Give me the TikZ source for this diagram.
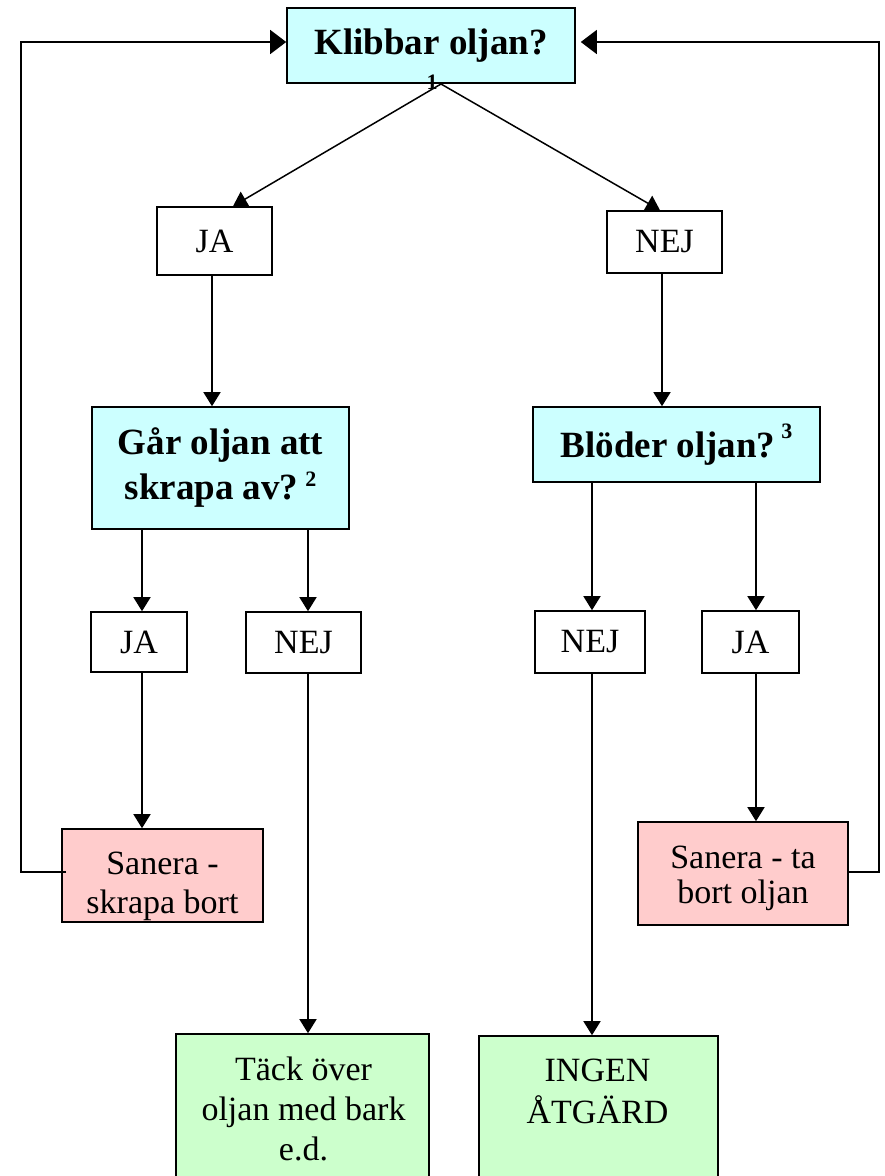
\documentclass[tikz,border=0pt]{standalone}
\usepackage{fontspec}
\setmainfont{Liberation Serif}
\usetikzlibrary{arrows.meta}
\definecolor{qcyan}{HTML}{CCFFFF}
\definecolor{spink}{HTML}{FFCCCC}
\definecolor{egreen}{HTML}{CCFFCC}
\tikzset{
  boxbase/.style={draw, line width=1.6pt, inner sep=0pt, align=center},
  qbox/.style={boxbase, fill=qcyan, font=\bfseries\fontsize{37}{45}\selectfont},
  abox/.style={boxbase, fill=white, font=\fontsize{34}{39}\selectfont},
  sbox/.style={boxbase, fill=spink},
  ebox/.style={boxbase, fill=egreen},
  txt/.style={inner sep=0pt, align=center},
  arr/.style={line width=1.5pt, -{Triangle[length=14pt,width=17pt]}},
  looparr/.style={line width=1.5pt, -{Triangle[length=16pt,width=24pt]}},
}
\newcommand{\supnum}[2]{\raisebox{#1}{\fontsize{22}{22}\selectfont #2}}
\begin{document}
\begin{tikzpicture}[x=1pt,y=-1pt]
\useasboundingbox (0,0) rectangle (885,1176);
\begin{scope}
\clip (0,0) rectangle (885,1176);
\coordinate (lc) at (21,872);
\coordinate (rc) at (879,872);
% boxes
\node[qbox, minimum width=288pt, minimum height=75pt] (top) at (431,45.5) {Klibbar oljan?};
\node[font=\bfseries\fontsize{22}{22}\selectfont, inner sep=0pt] (fn1) at (432,82.5) {1};
\node[abox, minimum width=115pt, minimum height=68pt] (ja1) at (214.5,241) {JA};
\node[abox, minimum width=115pt, minimum height=62pt] (nej1) at (664.5,242) {NEJ};
\node[qbox, minimum width=257pt, minimum height=122pt] (gar) at (220.5,468)
  {Går oljan att\\skrapa av?\hspace{7pt}\supnum{13pt}{2}};
\node[qbox, minimum width=287pt, minimum height=75pt] (blo) at (676.5,444.5)
  {Blöder oljan?\hspace{6pt}\supnum{19pt}{3}};
\node[abox, minimum width=96pt, minimum height=60pt] (ja2) at (139,642) {JA};
\node[abox, minimum width=115pt, minimum height=61pt] (nej2) at (303.5,642.5) {NEJ};
\node[abox, minimum width=110pt, minimum height=62pt] (nej3) at (590,642) {NEJ};
\node[abox, minimum width=97pt, minimum height=62pt] (ja3) at (750.5,642) {JA};
\node[sbox, minimum width=201pt, minimum height=93pt] (sl) at (162.5,875.5) {};
\node[txt, font=\fontsize{34}{39}\selectfont] (slt) at (162.5,886.5) {Sanera -\\skrapa bort};
\node[sbox, minimum width=210pt, minimum height=103pt] (sr) at (743,873.5) {};
\node[txt, font=\fontsize{34}{35}\selectfont] (srt) at (743,878) {Sanera - ta\\bort oljan};
\node[ebox, minimum width=253pt, minimum height=166pt] (tack) at (302.5,1117) {};
\node[txt, font=\fontsize{34}{40}\selectfont] (tackt) at (303.5,1108.5) {Täck över\\oljan med bark\\e.d.};
\node[ebox, minimum width=239pt, minimum height=164pt] (ingen) at (598.5,1118) {};
\node[txt, font=\fontsize{34}{42}\selectfont] (ingent) at (597.5,1091) {INGEN\\ÅTGÄRD};
% column coordinates
\coordinate (c212) at (212,0);
\coordinate (c662) at (662,0);
\coordinate (c142) at (142,0);
\coordinate (c308) at (308,0);
\coordinate (c592) at (592,0);
\coordinate (c756) at (756,0);
\coordinate (apex) at (441,84);
% connectors
\draw[arr] (apex) -- ([xshift=18.5pt]ja1.north);
\draw[arr] (apex) -- ([xshift=-4.5pt]nej1.north);
\draw[arr] (ja1.south -| c212) -- (gar.north -| c212);
\draw[arr] (nej1.south -| c662) -- (blo.north -| c662);
\draw[arr] (gar.south -| c142) -- (ja2.north -| c142);
\draw[arr] (gar.south -| c308) -- (nej2.north -| c308);
\draw[arr] (blo.south -| c592) -- (nej3.north -| c592);
\draw[arr] (blo.south -| c756) -- (ja3.north -| c756);
\draw[arr] (ja2.south -| c142) -- (sl.north -| c142);
\draw[arr] (ja3.south -| c756) -- (sr.north -| c756);
\draw[arr] (nej2.south -| c308) -- (tack.north -| c308);
\draw[arr] (nej3.south -| c592) -- (ingen.north -| c592);
\draw[looparr] ([xshift=5pt,yshift=3.5pt]sl.west) -- (lc) |- ([yshift=3.5pt]top.west);
\draw[looparr] ([yshift=1.5pt]sr.east) -- (rc) |- ([xshift=5pt,yshift=3.5pt]top.east);
\end{scope}
\end{tikzpicture}
\end{document}
